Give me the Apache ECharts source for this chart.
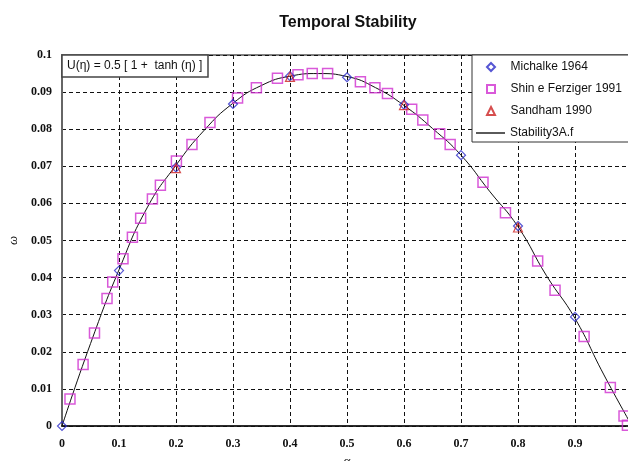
<!DOCTYPE html>
<html>
<head>
<meta charset="utf-8">
<script src="https://cdn.jsdelivr.net/npm/echarts@6/dist/echarts.min.js"></script>
<style>
    html, body { margin: 0; padding: 0; background: #fff; }
    #chart { width: 628px; height: 461px; }
</style>
</head>
<body>
<div id="chart"></div>
<script>
    // Michalke 1964
    let michalkeAlpha = [0, 0.1, 0.2, 0.3, 0.4, 0.5, 0.6, 0.7, 0.8, 0.9];
    let michalkeOmega = [0, 0.0419, 0.0697, 0.0868, 0.0943, 0.0940, 0.0866, 0.0730, 0.0539, 0.0294];

    // Shin e Ferziger 1991
    let shinAlpha = [0.014, 0.037, 0.057, 0.079, 0.089, 0.107, 0.1235, 0.138, 0.1586, 0.1726,
        0.2007, 0.228, 0.2596, 0.308, 0.341, 0.378, 0.414, 0.439, 0.466, 0.5235,
        0.549, 0.571, 0.6135, 0.633, 0.6626, 0.681, 0.7386, 0.778, 0.8345, 0.865,
        0.916, 0.962, 0.986, 0.992];
    let shinOmega = [0.0073, 0.0166, 0.0251, 0.0344, 0.0388, 0.0451, 0.0509, 0.0560, 0.0612, 0.0649,
        0.0714, 0.0759, 0.0818, 0.0884, 0.0912, 0.0937, 0.0947, 0.0950, 0.0950, 0.0928,
        0.0912, 0.0896, 0.0854, 0.0825, 0.0788, 0.0759, 0.0657, 0.0575, 0.0445, 0.0366,
        0.0241, 0.0104, 0.0027, 0.0002];

    // Sandham 1990
    let sandhamAlpha = [0.2, 0.4, 0.6, 0.8];
    let sandhamOmega = [0.0695, 0.0941, 0.0865, 0.0535];

    // Stability3A.f
    let lineAlpha = [0, 0.05, 0.1, 0.15, 0.2, 0.25, 0.3, 0.35, 0.4, 0.45, 0.5,
        0.55, 0.6, 0.65, 0.7, 0.75, 0.8, 0.85, 0.9, 0.95, 1.0];
    let lineOmega = [0, 0.0222, 0.0421, 0.0590, 0.0703, 0.0798, 0.0870, 0.0918, 0.0943, 0.0950, 0.0942,
        0.0912, 0.0864, 0.0802, 0.0730, 0.0633, 0.0537, 0.0405, 0.0290, 0.0140, 0];

    function pairs(xs, ys) {
        let out = [];
        for (let i = 0; i < xs.length; i++) {
            out.push([xs[i], ys[i]]);
        }
        return out;
    }

    // legend icons as paths so they keep their aspect inside the wide item box
    let diamondIcon = 'path://M5,0 L10,5 L5,10 L0,5 Z';
    let squareIcon = 'path://M0,0 L10,0 L10,10 L0,10 Z';
    let triangleIcon = 'path://M5,0 L10,10 L0,10 Z';

    let chart = echarts.init(document.getElementById('chart'));
    let tickFont = {
        fontFamily: 'Liberation Serif',
        fontWeight: 'bold',
        fontSize: 12,
        color: '#111'
    };
    let legendText = {
        fontFamily: 'Liberation Sans',
        fontSize: 12,
        color: '#111'
    };
    let option = {
        backgroundColor: '#fff',
        animation: false,
        title: [{
            text: 'Temporal Stability',
            left: 343,
            top: 10,
            textAlign: 'center',
            textStyle: {
                fontFamily: 'Liberation Sans',
                fontWeight: 'bold',
                fontSize: 16,
                color: '#111'
            }
        }, {
            text: 'U(η) = 0.5 [ 1 +  tanh (η) ]',
            left: 62,
            top: 55,
            padding: [5, 6, 5, 5],
            borderColor: '#444',
            borderWidth: 1.5,
            backgroundColor: '#fff',
            textStyle: {
                fontFamily: 'Liberation Sans',
                fontWeight: 'normal',
                fontSize: 12,
                color: '#111'
            }
        }],
        legend: [{
            // marker entries, box left tall enough to hold the line entry too
            orient: 'vertical',
            left: 472,
            top: 55,
            padding: [6, 20, 25, 14],
            itemGap: 10,
            itemWidth: 29,
            itemHeight: 8,
            symbolKeepAspect: true,
            borderColor: '#333',
            borderWidth: 1,
            backgroundColor: '#fff',
            z: 10,
            textStyle: legendText,
            data: [
                { name: 'Michalke 1964', icon: diamondIcon },
                { name: 'Shin e Ferziger 1991', icon: squareIcon },
                { name: 'Sandham 1990', icon: triangleIcon }
            ]
        }, {
            orient: 'vertical',
            left: 476,
            top: 127,
            padding: 0,
            itemWidth: 29,
            itemHeight: 1.3,
            z: 11,
            textStyle: legendText,
            data: [{ name: 'Stability3A.f', icon: 'rect', itemStyle: { color: '#000' } }]
        }],
        grid: {
            left: 62,
            top: 55,
            width: 570,
            height: 371,
            outerBoundsMode: 'none',
            containLabel: false,
            show: true,
            borderColor: '#555',
            borderWidth: 1.5
        },
        xAxis: {
            type: 'value',
            min: 0,
            max: 1,
            interval: 0.1,
            name: 'α',
            nameLocation: 'middle',
            nameGap: 26,
            nameTextStyle: {
                fontFamily: 'Liberation Serif',
                fontStyle: 'italic',
                fontSize: 13,
                color: '#111'
            },
            axisLine: { lineStyle: { color: '#111', width: 1.5 } },
            axisTick: { show: false },
            axisLabel: Object.assign({ margin: 12 }, tickFont),
            splitLine: { lineStyle: { color: '#111', type: [4, 3], width: 1 } }
        },
        yAxis: {
            type: 'value',
            min: 0,
            max: 0.1,
            interval: 0.01,
            name: 'ω',
            nameLocation: 'middle',
            nameRotate: 90,
            nameGap: 41,
            nameTextStyle: {
                fontFamily: 'Liberation Serif',
                fontStyle: 'italic',
                fontSize: 13,
                color: '#111'
            },
            axisLine: { show: true, lineStyle: { color: '#666', width: 2 } },
            axisTick: { show: false },
            axisLabel: Object.assign({ margin: 10 }, tickFont),
            splitLine: { lineStyle: { color: '#111', type: [4, 3], width: 1 } }
        },
        series: [{
            name: 'Stability3A.f',
            type: 'line',
            symbol: 'none',
            smooth: true,
            z: 2,
            lineStyle: { color: '#111', width: 1 },
            itemStyle: { color: '#111' },
            data: pairs(lineAlpha, lineOmega)
        }, {
            name: 'Shin e Ferziger 1991',
            type: 'scatter',
            symbol: 'rect',
            symbolSize: 10,
            z: 3,
            itemStyle: { color: 'rgba(255,255,255,0)', borderColor: '#d02fd0', borderWidth: 1.5 },
            data: pairs(shinAlpha, shinOmega)
        }, {
            name: 'Michalke 1964',
            type: 'scatter',
            symbol: 'diamond',
            symbolSize: 9,
            z: 4,
            itemStyle: { color: 'rgba(255,255,255,0)', borderColor: '#2a2ac8', borderWidth: 1.2 },
            data: pairs(michalkeAlpha, michalkeOmega)
        }, {
            name: 'Sandham 1990',
            type: 'scatter',
            symbol: 'triangle',
            symbolSize: 9,
            z: 5,
            itemStyle: { color: 'rgba(255,255,255,0)', borderColor: '#cc2020', borderWidth: 1.2 },
            data: pairs(sandhamAlpha, sandhamOmega)
        }]
    };
    chart.setOption(option);
</script>
</body>
</html>
